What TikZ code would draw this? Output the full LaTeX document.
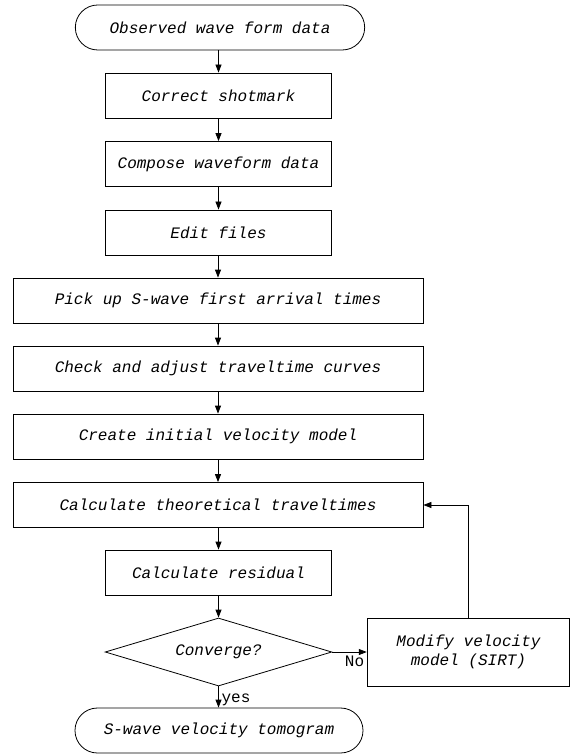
\documentclass[tikz,border=0pt]{standalone}
\usepackage{fontspec}
\setmainfont{Liberation Mono}
\usetikzlibrary{arrows.meta}
\usetikzlibrary{shapes.geometric}

\begin{document}
\begin{tikzpicture}[x=0.75pt, y=-0.75pt, ->, >={Triangle[length=6pt,width=4.5pt]},
    line width=0.6pt,
    font=\fontsize{12}{14}\selectfont,
    term/.style = {draw, rectangle, rounded corners=16.8pt, minimum width=217pt, minimum height=33.75pt, font=\fontsize{12}{14}\selectfont\itshape},
    small/.style = {draw, rectangle, minimum width=170pt, minimum height=33.75pt, font=\fontsize{12}{14}\selectfont\itshape},
    wide/.style = {draw, rectangle, minimum width=307.5pt, minimum height=33.75pt, font=\fontsize{12}{14}\selectfont\itshape},
    decide/.style = {draw, diamond, aspect=3.33, inner sep=0pt, minimum width=170pt, minimum height=51pt, font=\fontsize{12}{14}\selectfont\itshape}]
    \useasboundingbox (0,0) rectangle (571,755);
    % Nodes

    \node[term] (obs) at (220, 27.5) {Observed wave form data};
    \node[small] (corr) at (218.5, 95.5) {Correct shotmark};
    \node[small] (comp) at (218.5, 164) {Compose waveform data};
    \node[small] (edit) at (218.5, 232.5) {Edit files};

    \node[wide] (pick) at (218, 300.5) {Pick up S-wave first arrival times};
    \node[wide] (check) at (218, 368.5) {Check and adjust traveltime curves};
    \node[wide] (init) at (218, 436.5) {Create initial velocity model};
    \node[wide] (theo) at (218, 505) {Calculate theoretical traveltimes};

    \node[small] (resid) at (218.5, 572.5) {Calculate residual};
    \node[decide] (conv) at (218.5, 652) {Converge?};
    \node[draw, rectangle, minimum width=152pt, minimum height=51pt, align=center,
          font=\fontsize{12}{14}\selectfont\itshape] (modify) at (468.5, 652)
          {Modify velocity\\model (SIRT)};
    \node[term, minimum width=216pt] (tomo) at (219, 730.5) {S-wave velocity tomogram};

    % Edges

    \draw (obs.south -| corr) -- (corr);
    \draw (corr) -- (comp);
    \draw (comp) -- (edit);
    \draw (edit.south -| pick) -- (pick);
    \draw (pick) -- (check);
    \draw (check) -- (init);
    \draw (init) -- (theo);
    \draw (theo.south -| resid) -- (resid);
    \draw (resid) -- (conv);
    \draw (conv) -- node[pos=0.55, below right, xshift=-6pt, yshift=-2pt, inner sep=1pt] {No} (modify);
    \draw (modify.north) |- (theo.east);
    \draw (conv.south) -- node[right, inner sep=2pt, yshift=-2pt] {yes} (tomo.north -| conv.south);

\end{tikzpicture}
\end{document}
